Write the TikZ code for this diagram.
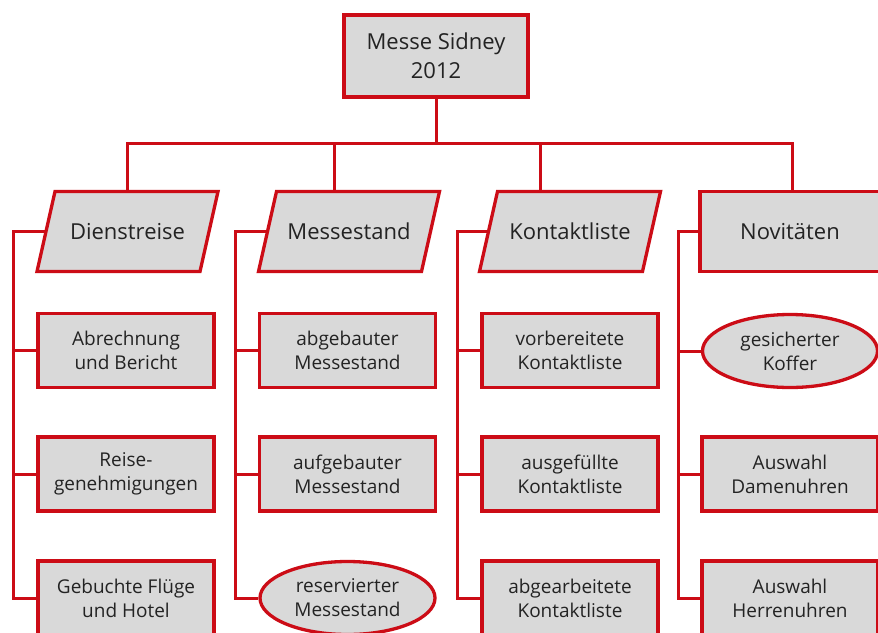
\documentclass[tikz,border=0pt]{standalone}
\usepackage{fontspec}
\setmainfont{Open Sans}
\usetikzlibrary{backgrounds,shapes.geometric}
\definecolor{lred}{RGB}{204,12,22}
\definecolor{lgray}{RGB}{217,217,217}
\definecolor{ltext}{RGB}{35,35,35}
\begin{document}
\begin{tikzpicture}[x=1pt,y=-1pt,
  box/.style={draw=lred, fill=lgray, line width=3.3pt, rectangle,
    minimum width=176pt, minimum height=74pt, inner sep=0pt,
    text=ltext, align=center, font=\fontsize{19}{24}\selectfont},
  oval/.style={box, ellipse, minimum width=175pt, minimum height=73pt},
  paratext/.style={rectangle, draw=none, fill=none, outer sep=0pt, inner sep=0pt,
    minimum width=181pt, minimum height=80pt, text=ltext,
    font=\fontsize{22}{28}\selectfont},
  parashape/.style={draw=lred, fill=lgray, line width=3.3pt},
  headbox/.style={box, minimum width=180pt, minimum height=80pt,
    font=\fontsize{22}{28}\selectfont},
  topbox/.style={box, minimum width=184pt, minimum height=82pt,
    font=\fontsize{22}{29}\selectfont},
  conn/.style={draw=lred, line width=3pt}]
\useasboundingbox (0,0) rectangle (878,632);
\begin{scope}[on background layer]
\fill[white] (0,0) rectangle (878,632);
\end{scope}
\clip (0,0) rectangle (878,632);

% nodes
\node[topbox] (top) at (436,56) {Messe Sidney\\2012};
\node[paratext] (dien) at (127.5,231.5) {Dienstreise};
\node[paratext] (mess) at (349,231.5) {Messestand};
\node[paratext] (kont) at (570,231.5) {Kontaktliste};
\node[headbox] (novi) at (790,231.5) {Novitäten};

\begin{scope}[on background layer]
\foreach \n in {dien,mess,kont}{
  \path[parashape] (\n.south west) -- ([xshift=18pt]\n.north west)
    -- (\n.north east) -- ([xshift=-18pt]\n.south east) -- cycle;
}
\end{scope}

\node[box] (abr) at (126,350.5) {Abrechnung\\und Bericht};
\node[box] (reise) at (126,474) {Reise-\\genehmigungen};
\node[box] (geb) at (126,598) {Gebuchte Flüge\\und Hotel};

\node[box] (abg) at (347.5,350.5) {abgebauter\\Messestand};
\node[box] (aufg) at (347.5,474) {aufgebauter\\Messestand};
\node[oval] (res) at (347.5,598) {reservierter\\Messestand};

\node[box] (vor) at (570,350.5) {vorbereitete\\Kontaktliste};
\node[box] (ausg) at (570,474) {ausgefüllte\\Kontaktliste};
\node[box] (abga) at (570,598) {abgearbeitete\\Kontaktliste};

\node[oval] (kof) at (790,351) {gesicherter\\Koffer};
\node[box] (dam) at (790,474) {Auswahl\\Damenuhren};
\node[box] (her) at (790,598) {Auswahl\\Herrenuhren};

% coordinates
\coordinate (bus) at (0,143);
\coordinate (d1) at (dien.north);
\coordinate (m1) at ([xshift=-15pt]mess.north);
\coordinate (k1) at ([xshift=-30pt]kont.north);
\coordinate (n1) at ([xshift=2pt]novi.north);
\coordinate (dw) at ([xshift=7.5pt]dien.west);
\coordinate (mw) at ([xshift=7.5pt]mess.west);
\coordinate (kw) at ([xshift=7.5pt]kont.west);
\coordinate (r1) at (13,0);
\coordinate (r2) at (235,0);
\coordinate (r3) at (457,0);
\coordinate (r4) at (678,0);

% top tree
\draw[conn] (top.south) -- (top.south |- bus);
\draw[conn] (d1) |- (bus -| n1) -- (n1);
\draw[conn] (m1) -- (m1 |- bus);
\draw[conn] (k1) -- (k1 |- bus);

% column rails
\draw[conn] (dw) -| (r1 |- geb.west) -- (geb.west);
\draw[conn] (r1 |- abr.west) -- (abr.west);
\draw[conn] (r1 |- reise.west) -- (reise.west);

\draw[conn] (mw) -| (r2 |- res.west) -- (res.west);
\draw[conn] (r2 |- abg.west) -- (abg.west);
\draw[conn] (r2 |- aufg.west) -- (aufg.west);

\draw[conn] (kw) -| (r3 |- abga.west) -- (abga.west);
\draw[conn] (r3 |- vor.west) -- (vor.west);
\draw[conn] (r3 |- ausg.west) -- (ausg.west);

\draw[conn] (novi.west) -| (r4 |- her.west) -- (her.west);
\draw[conn] (r4 |- kof.west) -- (kof.west);
\draw[conn] (r4 |- dam.west) -- (dam.west);
\end{tikzpicture}
\end{document}
